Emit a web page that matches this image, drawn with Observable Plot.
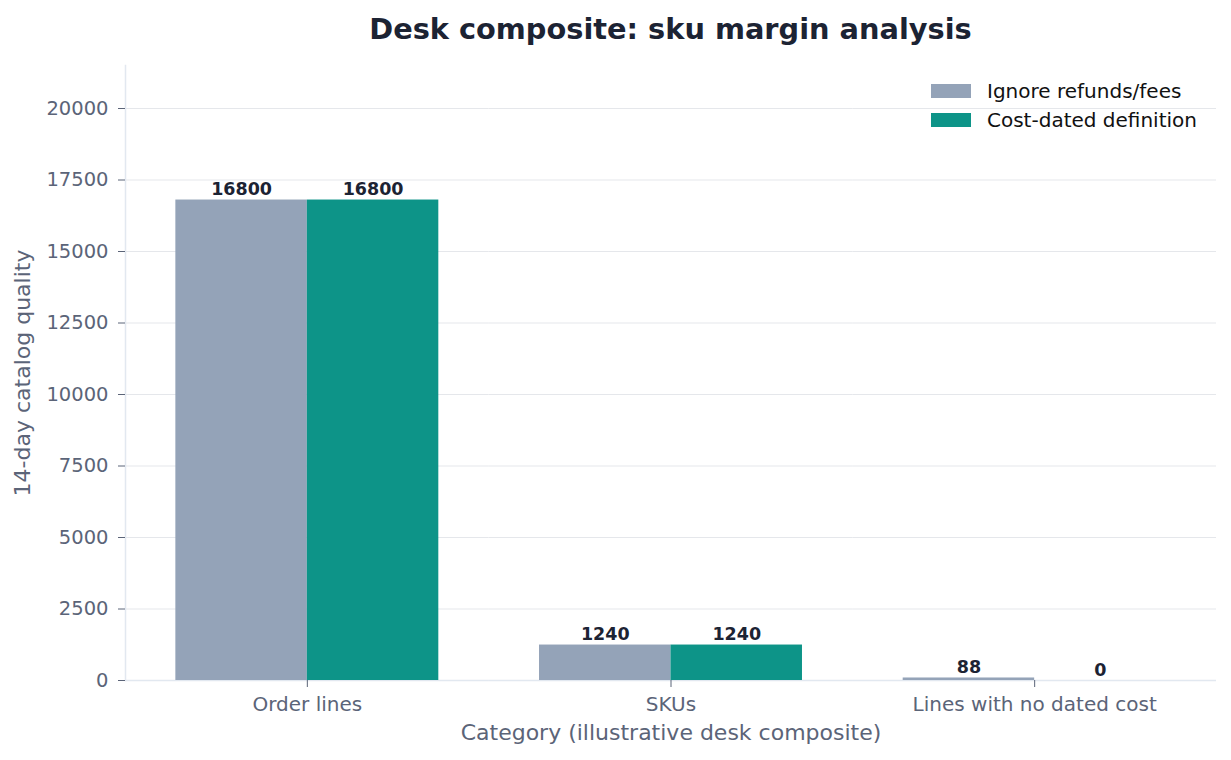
<!DOCTYPE html>
<html>
<head>
<meta charset="utf-8">
<script src="https://cdn.jsdelivr.net/npm/d3@7"></script>
<script src="https://cdn.jsdelivr.net/npm/@observablehq/plot@0.6"></script>
<style>
  body { margin: 0; background: #ffffff; font-family: "DejaVu Sans", sans-serif; }
  #wrap { position: relative; width: 1231px; height: 760px; }
  #title { position: absolute; left: 125px; top: 0; width: 1091px; height: 58px; line-height: 58px;
           text-align: center; font-size: 28.8px; font-weight: bold; color: #1c2333; }
  #chart { position: absolute; left: 0; top: 50px; }
  #legend { position: absolute; left: 931px; top: 76px; font-size: 20px; color: #111; }
  .item { display: flex; align-items: center; height: 29px; }
  .sw { width: 40px; height: 14px; margin-right: 16px; }
</style>
</head>
<body>
<div id="wrap">
  <div id="title">Desk composite: sku margin analysis</div>
  <div id="chart"></div>
  <div id="legend"></div>
</div>
<script>
const categories = ["Order lines", "SKUs", "Lines with no dated cost"];
const seriesNames = ["Ignore refunds/fees", "Cost-dated definition"];
const ignoreValues = [16800, 1240, 88];
const costDatedValues = [16800, 1240, 0];
const yTicks = [0, 2500, 5000, 7500, 10000, 12500, 15000, 17500, 20000];
const colors = ["#94a3b8", "#0d9488"];

const rows = categories.flatMap((c, i) => [
  {category: c, series: seriesNames[0], value: ignoreValues[i]},
  {category: c, series: seriesNames[1], value: costDatedValues[i]}
]);

const axisColor = "#5b6478";

const chart = Plot.plot({
  width: 1231,
  height: 710,
  marginTop: 15,
  marginBottom: 80,
  marginLeft: 125,
  marginRight: 15,
  style: {fontFamily: "DejaVu Sans", background: "white", overflow: "visible"},
  fx: {domain: categories, padding: 0, round: false},
  x: {domain: seriesNames, paddingInner: 0, paddingOuter: 0.383, round: false, axis: null},
  y: {domain: [0, 21504]},
  color: {domain: seriesNames, range: colors},
  marks: [
    Plot.gridY(yTicks, {stroke: "#e5e7eb", strokeOpacity: 1, strokeWidth: 1.2}),
    Plot.ruleY([0], {stroke: "#e2e8f0", strokeWidth: 1.5}),
    Plot.frame({anchor: "left", facetAnchor: "left", stroke: "#e2e8f0", strokeWidth: 1.5}),
    Plot.barY(rows, {fx: "category", x: "series", y: "value", fill: "series"}),
    Plot.text(rows, {fx: "category", x: "series", y: "value", text: d => String(d.value),
      lineAnchor: "bottom", dy: -5, fontWeight: "bold", fontSize: 17.5, fill: "#1c2333"}),
    Plot.axisY({ticks: yTicks, tickFormat: d => String(d), tickSize: 7, tickPadding: 10,
      fontSize: 19.5, color: axisColor, label: null}),
    Plot.axisY({ticks: [], tickSize: 0, fontSize: 22, color: axisColor,
      label: "14-day catalog quality", labelAnchor: "center", labelArrow: "none", labelOffset: 111}),
    Plot.axisFx({anchor: "bottom", tickSize: 7, tickPadding: 9, fontSize: 20, color: axisColor, label: null}),
    Plot.axisFx({anchor: "bottom", ticks: [], tickSize: 0, fontSize: 22, color: axisColor,
      label: "Category (illustrative desk composite)", labelAnchor: "center", labelArrow: "none",
      labelOffset: 59})
  ]
});
document.getElementById("chart").appendChild(chart);

const leg = document.getElementById("legend");
seriesNames.forEach((s, i) => {
  const item = document.createElement("div");
  item.className = "item";
  const sw = document.createElement("div");
  sw.className = "sw";
  sw.style.background = colors[i];
  const tx = document.createElement("span");
  tx.textContent = s;
  item.appendChild(sw);
  item.appendChild(tx);
  leg.appendChild(item);
});
</script>
</body>
</html>
